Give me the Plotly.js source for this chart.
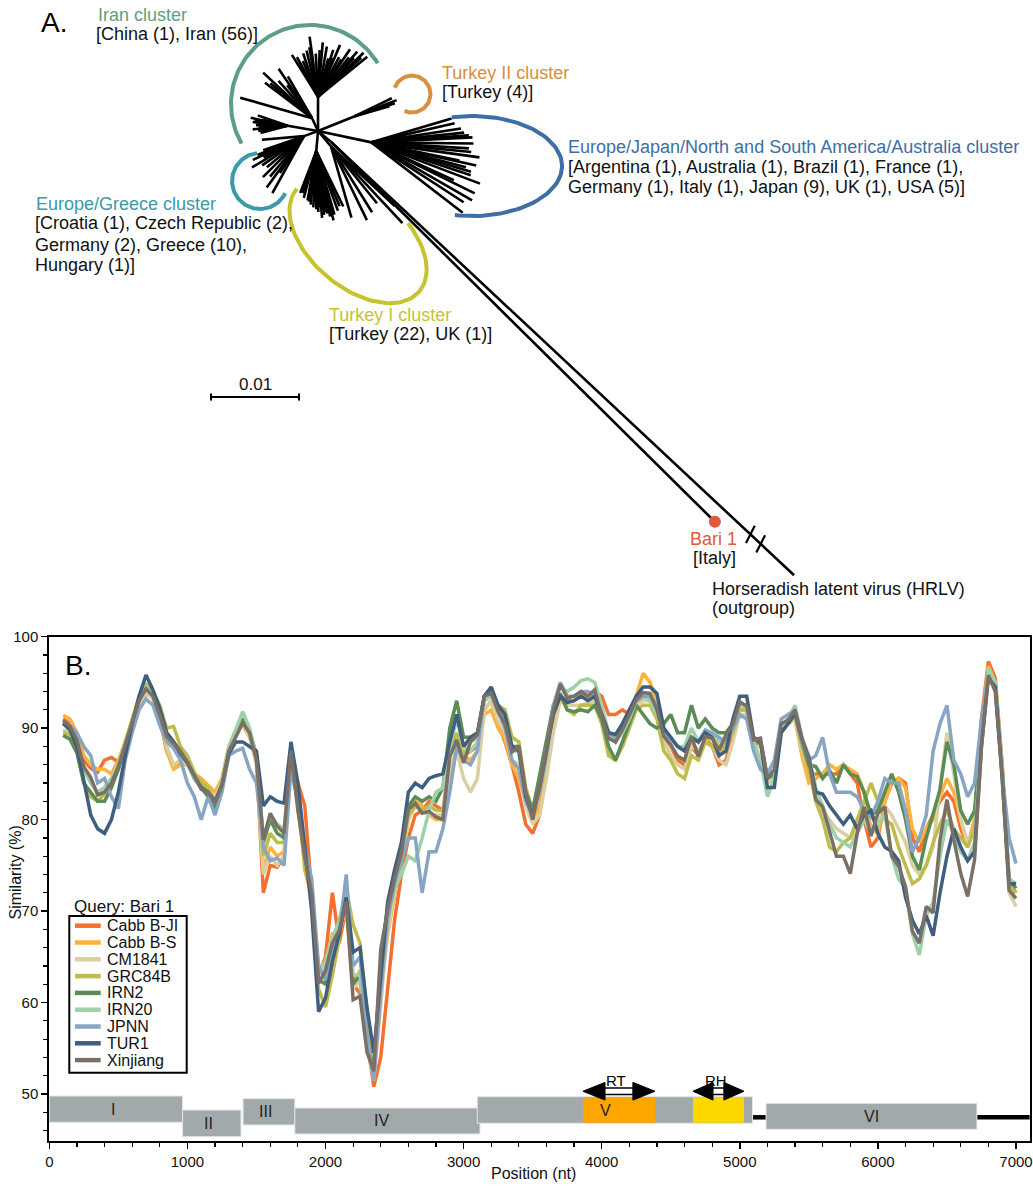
<!DOCTYPE html>
<html><head><meta charset="utf-8">
<script src="https://cdn.plot.ly/plotly-3.0.1.min.js"></script>
<style>html,body{margin:0;padding:0;background:#fff;}#chart{width:1033px;height:1186px;}</style>
</head><body><div id="chart"></div>
<script>
// ---------------- Panel B data: similarity (%) along genome position (nt) ----------------
const positions = [100,150,200,250,300,350,400,450,500,550,
600,650,700,750,800,850,900,950,1000,1050,
1100,1150,1200,1250,1300,1350,1400,1450,1500,1550,
1600,1650,1700,1750,1800,1850,1900,1950,2000,2050,
2100,2150,2200,2250,2300,2350,2400,2450,2500,2550,
2600,2650,2700,2750,2800,2850,2900,2950,3000,3050,
3100,3150,3200,3250,3300,3350,3400,3450,3500,3550,
3600,3650,3700,3750,3800,3850,3900,3950,4000,4050,
4100,4150,4200,4250,4300,4350,4400,4450,4500,4550,
4600,4650,4700,4750,4800,4850,4900,4950,5000,5050,
5100,5150,5200,5250,5300,5350,5400,5450,5500,5550,
5600,5650,5700,5750,5800,5850,5900,5950,6000,6050,
6100,6150,6200,6250,6300,6350,6400,6450,6500,6550,
6600,6650,6700,6750,6800,6850,6900,6950,7000];

const seriesNames = ['Cabb B-JI','Cabb B-S','CM1841','GRC84B','IRN2','IRN20','JPNN','TUR1','Xinjiang'];
const seriesColors = ['#F3702F','#FDB23C','#D9CFA1','#BEBC4C','#5B8C56','#9ED1A7','#88A6C4','#405F7E','#7B7067'];

const cabbBJI = [91,90.5,88.9,86.5,85.6,85.2,86.5,86.8,86.3,88,
90.3,93,94.3,93.3,91,87.5,86,86.2,86.5,85,
83.8,83.3,82.3,84,87.8,89.3,90.5,89.2,86.5,72,
75,74.8,76,86.5,84,81.5,72,63,65,72,
66.5,70.5,62,61,56,50.8,54,62,69,74,
78,80.5,81,82,81.5,81,84.5,88,87,87.5,
88,92,93,90.5,88.5,86,83,79.5,78.5,80.5,
85,90,93.5,93,93,93.5,93.5,94,93.5,91.5,
91.5,92,91.5,92.5,93.5,93.5,92,89,88,86.5,
86,88,87,89,88,86,86.5,89.5,92,92,
88,88.5,84.5,85,90,91,91,87.5,85,85,
85,85,85,86,85,84,80,77,78,82,
84,84.5,84,78,76.5,79,80.5,82,83,82,
79,77,80,91,97.3,95.5,86,73,72];

const cabbBS = [91.4,91.0,89.5,87,86,85.5,85.5,85,86.5,88.5,
90.8,93.2,94.5,93.8,91.5,87.5,85.5,86,86,85,
84.5,83.8,83,84.5,88,89.8,90.3,89,86.5,74.5,
77,76,76.5,86,83,74.5,71.5,63.5,64.5,67.5,
67.5,70.5,62,63.5,57,52.5,61,67.5,71.5,75.5,
80,82,81.5,80.5,80,80,84,88,87,86.5,
87.5,91.5,92,90,88.8,86,84.5,82,80,81.5,
85.5,90.5,93.5,92.8,93,93.5,93.5,93.8,92,89.5,
88.5,90,91,93.5,96,95,93,89.5,88,87,
86.5,88.5,87.5,88.5,89,88,88.5,90,92.5,92.5,
88.5,88.5,84.5,85,90,90.5,91,87,84,84.5,
85,86,85.5,86,85.5,85,83,79,78.5,82,
84,84.5,83.5,79,77.5,79,80,82.5,84.5,83,
80,77,80,90,96.8,95,85.5,73,72];

const cm1841 = [89.8,89.5,88,85.5,84,83,83.5,84.5,86,88,
90.3,92.5,93.8,93.2,91,88,86,86.5,86,84.5,
83.5,83,82.5,84,87.8,89.5,90.5,89,86,74,
76,75,76,86.5,82.5,75.5,72.5,63,64,67,
67.5,71,61.5,62.5,55.5,51.5,60,68,72,75.5,
80,81.5,81,80.5,80.5,80.5,85.5,87.5,84.5,83,
84.5,92,93,90.8,89.5,86.5,86,81.5,79.5,80.5,
84.5,89.5,93,92.5,92.5,92.5,92.8,93,91,87.5,
86.5,88.5,90.5,92.5,93,93,91.5,88.5,87,86,
85.5,88,87.5,88.5,88,86.5,86,88.5,91.5,91.5,
88,88,84,84.5,89.5,90.5,91,87.5,85.5,82.5,
81,80,79,78.5,78,79,80.5,79,79.5,81.5,
80.5,79,77.5,75,74,75,77,83.5,89.5,85,
80,77.5,79,89,96.5,94.5,85,72,70.5];

const grc84b = [89.5,89.3,87.5,84,82.5,82,82.8,84,85.5,88.5,
91,93.5,94.8,94,92.5,90,90.2,88,87,85.2,
84,83.5,82,83.5,87.5,89.5,90.8,89.5,86.5,76,
78.5,77.5,77.5,87,81.5,75,72,61.5,59.5,63,
67,72.5,68.5,66.5,59,53.5,62,70.5,74,76.5,
80.5,81.5,81,81.5,81,81,87,89.5,87,88.5,
89,93.5,94,92.5,92,89,88.5,83.5,81,84.5,
88,91.5,93.5,92,91.5,92.5,92.5,92.5,90.5,87,
86.5,88,90,92,92.5,92.5,91,87.5,86.5,85,
84.5,87,86.5,88.5,88,87,88.5,89.5,92,92,
88.5,88.5,84.5,85,90,90.5,91.5,88,85.5,82,
80,77,76.5,77.5,78,80,82,84,82,80,
79.5,77,75,73,73.5,75,77.5,79.5,81,79,
78,77,79,89.5,96.5,95,85.5,73,72];

const irn2 = [89.2,88.8,87.3,84,83,82,82,83.5,85.5,88,
90.5,93,94.5,93.8,91.8,89.5,88.5,87.5,86.2,84.5,
83.5,82.5,81.2,83.5,87.5,89.5,91,89.8,87,77.5,
80,78.5,78,87.5,82,76,72.5,62.5,62,65.5,
67.5,71.5,62,63,56,52.5,64.5,70.5,74,77,
81.5,82.5,82,82.5,82,83.5,90,93,89,89,
89.3,93.5,94,92,91,88,88,83,81,85,
88.5,92.5,93.8,92,91.8,92,91.8,92.5,91,88,
86.5,88.5,90.5,92.5,91.5,90.5,90,90.5,91.5,89.5,
89.5,92.5,90,91,90,89.5,89.5,90.5,92.5,92.5,
88.5,88.5,84.5,85,90,90.5,91.5,88.5,86,85.8,
84.5,85.4,84,86,85,84.7,83,80.5,81,83,
85,83,80,76,74.5,78,80.5,83.3,88.5,86,
81,79.5,81,89.5,96.2,94.8,85.5,73.5,72.5];

const irn20 = [90.5,90,88.5,85.5,84,83,83.5,84.5,86,88.2,
90.5,93,94.5,93.6,91.5,89,88,87.3,86.2,84.6,
83.5,83,82,84,88,89.8,91.8,90,86.8,78,
80.5,79.5,79,87,82,76.5,72.5,63.5,64.5,67,
69,72.5,63,63,56,51.5,63.5,69.5,72.5,74,
76,75.5,78,81,83,83.5,88,91,88,87.5,
88.5,93,93.5,92,90.5,87.5,87.5,82.5,80.5,83.5,
87.5,92,94.5,94,94.5,95.2,95.4,95,92.5,89.5,
88.5,89.5,91,93,93.5,93,91.5,89.5,89,88,
88,90,88.5,89.5,89.3,88.5,88.8,90,92.5,92.3,
88.5,86.5,82.5,84.5,90,91,92.5,89,87,83.5,
81.5,79.5,78,77.5,77,78.5,80,78.5,79.5,80.5,
76,73.5,72.5,67.5,65.2,69.5,71,76,80,78.5,
76.5,75.5,77.5,89,96.5,95,85.5,73.5,73];

const jpnn = [90.5,90.3,89.5,88,87,84,84.5,82.5,81.2,86.5,
89.5,92,93.2,92.5,90.3,88.5,87.8,86.5,84,82.5,
80,82.5,80.5,83,87,87.5,87.8,85.5,84,77,
75.5,75.8,75,85.5,82,77,73.5,64,62.5,65.5,
67.5,74,64,65,56.5,51.5,61,69,73,75.5,
78,78,72,76.5,76.5,79,83,88,86.5,86,
87.5,93.5,94.5,92,90,86.5,85.5,82,80.5,83,
87,92.5,95,93.5,93.5,94,94,93.5,91.5,89.5,
89,90,91.5,93,93.5,93.5,92.5,89.5,88.8,88,
87.5,89,88.5,89.8,89.5,89,88.5,90,91.5,91,
87.5,85.5,85,86.5,91,91.5,92,88.5,86.5,87,
89,85,83,83,83,82.5,81,80.3,82,84.5,
84,84,81,76.5,78,80.5,87.5,90.5,92.5,86.5,
85,82.5,84,91,95.3,94.5,85,78,75.2];

const tur1 = [90.5,89.8,88,84,80.5,79,78.5,80,83,87,
90.5,93.5,95.8,94.2,92.2,89.5,88.5,87.2,86.2,84.8,
83.5,83,82,83.8,87.2,88.5,88.5,88,87.5,81.5,
82.5,82,81.8,88.5,84,77,70,59,60.5,64.5,
67.5,71.5,65.5,66,59.5,54.5,63,71,74.5,77.5,
83,84,83.5,84.5,84.8,85,88.5,91.5,88,89,
89.5,93.5,94.5,92.5,91.5,88,87.5,82.5,80.5,83.5,
87.5,91.5,93.5,92.8,93,93.5,93,93.5,91.5,89.5,
89.3,90.5,92,93.5,94.5,94.5,93.8,90,89,88,
87.5,89,88.5,89.5,89,87,87.5,91,93.5,93.5,
89,88.5,83.5,83.5,89.5,90.5,91.8,88.8,86.8,83,
82.8,81.5,80.5,79.5,80.5,79,80.5,81,78.5,77,
76.5,75.5,71.5,69,67.5,69.5,67.3,72,76,79,
77,75.5,76.5,88,95.5,94.5,84.5,73,73];

const xinjiang = [90.8,90.2,88.7,85.8,84.6,82.7,83.0,84.0,85.8,88.2,
90.5,93.0,94.3,93.5,91.4,89.1,88.3,87.4,86.3,84.8,
83.3,83.0,81.8,83.7,87.5,89.0,90.6,89.5,86.5,77.8,
80.7,79.3,78.5,87.5,81.0,76.0,71.9,62.1,63.5,66.5,
67.9,71.0,60.3,60.7,54.6,52.5,65.8,70.1,73.5,76.4,
81.1,81.8,80.7,80.9,80.3,80.0,86.9,88.7,86.2,88.5,
89.3,93.5,93.8,91.8,90.4,87.4,88.0,82.9,80.0,83.6,
87.6,92.0,94.8,93.3,93.5,94.0,93.5,94.2,91.3,88.9,
88.5,89.8,91.4,93.1,93.9,93.8,92.0,89.1,88.2,86.9,
86.5,89.1,86.9,89.1,88.9,87.6,89.3,90.4,92.9,92.4,
88.7,88.9,84.5,85.5,90.5,90.9,92.0,88.9,86.5,82.2,
81.4,78.7,76.0,76.0,74.1,78.5,81.4,78.2,80.7,81.4,
76.0,74.9,72.7,67.8,66.5,70.5,69.8,77.8,82.2,77.8,
74.1,71.6,75.6,88.0,95.8,94.0,84.7,72.3,71.4];

const seriesValues = [cabbBJI, cabbBS, cm1841, grc84b, irn2, irn20, jpnn, tur1, xinjiang];

// Genome map (ORFs I-VI) and domains
const geneNames = ['I','II','III','IV','V','VI'];
const geneStart = [0, 965, 1403, 1778, 3099, 5190];
const geneEnd = [965, 1388, 1778, 3119, 5092, 6717];
const geneTop = [49.78, 48.25, 49.49, 48.47, 49.70, 48.98];
const geneBottom = [46.91, 45.33, 46.61, 45.63, 46.80, 46.14];
const geneLabelPos = [464, 1152, 1567, 2402, 4027, 5954];
const domainNames = ['RT','RH'];
const domainStart = [3864, 4661];
const domainEnd = [4386, 5030];
const domainColors = ['#FFA500','#FFD700'];
const genomeEnd = 7100;

// ---------------- Panel A data: unrooted tree ----------------
// branch lengths in units of 0.0001 substitutions/site, angles in degrees
const treeUnit = 0.0001;
const scaleBarValue = 0.01;
const cladeStemAngle = [-90, -115, -170, 160, 95, 50, 12, -22, 40];
const cladeStemLength = [39, 16, 35, 17, 23, 23, 62, 45, 19];
const tipAngles = [
  [-39,-44,-49,-56,-67,-72,-80,-88,-98,-109,-118,-122,-118,-52,-62,-75,-85,-100,-42,-47,-58,-70,-93,-104,-113],
  [-137,-124,-143,-127,-164,-132,-140,-120],
  [-168,-174,-179,174,170,-167,-161,165,-171,178],
  [155,161,149,158,130,126,119,123,175,140,145,135,152],
  [111,100,93,86,88,83,80,78,76,70,64,96,85,79,105,82,90,98,74,67,108],
  [74,64,51,47,43,58],
  [-16.5,-12.9,-8.8,-4.1,-2.8,0.6,3.5,7.9,12.4,14.7,18.3,20.8,26.3,29.9,37.6,24.6,11.6,-6,5.5,16.5,33],
  [-21,-18,-26,-16],
  [44.7,43.1]
];
const tipLengths = [
  [72,72,68,65,64,56,58,53,69,52,51,56,43,57,51,45,62,57,66,60,50,47,49,54,44],
  [76,68,67,47,85,57,62,55],
  [43,40,36,40,34,30,36,32,38,33],
  [64,49,69,57,60,72,74,50,48,55,58,66,52],
  [51,57,64,64,69,73,72,76,81,72,70,61,76,62,55,70,66,58,75,68,50],
  [84,93,83,119,99,88],
  [95,97,103,111,115,116,111,124,122,111,119,132,131,132,131,103,102,106,114,118,125],
  [51,48,47,41],
  [614,721]
];
// cluster brackets (ellipse arcs around clades)
const arcColors = ['#5E9E82','#D6903E','#3E6EA4','#3A9AA9','#C4C42E'];
const arcCx = [-9.1, 106.8, 175, -65.9, 45.5];
const arcCy = [-30.7, -42.0, 39.8, 56.8, 123.9];
const arcRx = [89.8, 21.0, 102.3, 31.8, 90.9];
const arcRy = [89.8, 21.0, 56.8, 31.8, 54.5];
const arcRot = [0, 0, 0, 0, 40];
const arcFrom = [150, -160, -103, 264, 180];
const arcTo = [329, 114, 101, 25.6, -70];

// ---------------- build ----------------
const W = 1033, H = 1186;
const FONT = 'Arial, "Liberation Sans", Helvetica, sans-serif';
const pxX = v => v / W, pxY = v => 1 - v / H;
const rad = d => d * Math.PI / 180;

const traces = [];

// tree
const tx = [], ty = [];
let bariEnd = null, hrlvNode = null;
for (let c = 0; c < cladeStemAngle.length; c++) {
  const a = rad(cladeStemAngle[c]);
  const nx = cladeStemLength[c] * Math.cos(a), ny = cladeStemLength[c] * Math.sin(a);
  tx.push(0, nx, null); ty.push(0, ny, null);
  tipAngles[c].forEach((ang, i) => {
    const b = rad(ang), L = tipLengths[c][i];
    const ex = nx + L * Math.cos(b), ey = ny + L * Math.sin(b);
    tx.push(nx, ex, null); ty.push(ny, ey, null);
    if (c === 8 && i === 0) bariEnd = [ex, ey];
    if (c === 8 && i === 1) hrlvNode = [nx, ny, ang];
  });
}
traces.push({x: tx, y: ty, xaxis: 'x2', yaxis: 'y2', mode: 'lines',
  line: {color: '#000', width: 2.6}, hoverinfo: 'skip', showlegend: false});

// break marks on the outgroup branch
const bx = [], by = [];
[653, 669].forEach(d => {
  const b = rad(hrlvNode[2]);
  const cx = hrlvNode[0] + d * Math.cos(b), cy = hrlvNode[1] + d * Math.sin(b);
  const s = rad(-63);
  bx.push(cx - 11 * Math.cos(s), cx + 11 * Math.cos(s), null);
  by.push(cy - 11 * Math.sin(s), cy + 11 * Math.sin(s), null);
});
traces.push({x: bx, y: by, xaxis: 'x2', yaxis: 'y2', mode: 'lines',
  line: {color: '#000', width: 2.2}, hoverinfo: 'skip', showlegend: false});

// arcs
for (let k = 0; k < arcCx.length; k++) {
  const ax = [], ay = [];
  const th = rad(arcRot[k]);
  for (let j = 0; j <= 80; j++) {
    const t = rad(arcFrom[k] + (arcTo[k] - arcFrom[k]) * j / 80);
    const lx = arcRx[k] * Math.cos(t), ly = arcRy[k] * Math.sin(t);
    ax.push(arcCx[k] + lx * Math.cos(th) - ly * Math.sin(th));
    ay.push(arcCy[k] + lx * Math.sin(th) + ly * Math.cos(th));
  }
  traces.push({x: ax, y: ay, xaxis: 'x2', yaxis: 'y2', mode: 'lines',
    line: {color: arcColors[k], width: 4}, hoverinfo: 'skip', showlegend: false});
}
// Bari 1 point
traces.push({x: [bariEnd[0]], y: [bariEnd[1]], xaxis: 'x2', yaxis: 'y2', mode: 'markers',
  marker: {color: '#E0593A', size: 12}, hoverinfo: 'skip', showlegend: false});

// scale bar
const sbX0 = -121.6, sbY = 302.3, sbLen = scaleBarValue / treeUnit;
traces.push({x: [sbX0, sbX0 + sbLen, null, sbX0, sbX0, null, sbX0 + sbLen, sbX0 + sbLen],
  y: [sbY, sbY, null, sbY - 4, sbY + 4, null, sbY - 4, sbY + 4],
  xaxis: 'x2', yaxis: 'y2', mode: 'lines', line: {color: '#000', width: 2},
  hoverinfo: 'skip', showlegend: false});

// similarity lines
seriesNames.forEach((n, i) => {
  traces.push({x: positions, y: seriesValues[i], name: n, mode: 'lines',
    line: {color: seriesColors[i], width: 3.5}, showlegend: false, xaxis: 'x', yaxis: 'y'});
});

// shapes
const shapes = [];
shapes.push({type: 'line', xref: 'x', yref: 'y', x0: geneEnd[4], x1: geneStart[5], y0: 47.45, y1: 47.45, line: {color: '#000', width: 4.5}});
shapes.push({type: 'line', xref: 'x', yref: 'y', x0: geneEnd[5], x1: genomeEnd, y0: 47.45, y1: 47.45, line: {color: '#000', width: 4.5}});
geneNames.forEach((g, i) => {
  shapes.push({type: 'rect', xref: 'x', yref: 'y', x0: geneStart[i], x1: geneEnd[i], y0: geneBottom[i], y1: geneTop[i],
    fillcolor: '#A1A9AA', line: {color: '#E3E6E6', width: 1}});
});
domainNames.forEach((d, i) => {
  shapes.push({type: 'rect', xref: 'x', yref: 'y', x0: domainStart[i], x1: domainEnd[i], y0: geneBottom[4] + 0.05, y1: geneTop[4] - 0.05,
    fillcolor: domainColors[i], line: {width: 0}});
});
const arrowY = 50.3, headH = 0.97, shaftH = 0.36;
const headLen = [160, 145];
domainNames.forEach((d, i) => {
  const a = domainStart[i], b = domainEnd[i], h = headLen[i];
  shapes.push({type: 'rect', xref: 'x', yref: 'y', x0: a + h - 5, x1: b - h + 5, y0: arrowY - shaftH, y1: arrowY + shaftH,
    fillcolor: '#fff', line: {color: '#000', width: 1.5}});
  shapes.push({type: 'path', xref: 'x', yref: 'y',
    path: `M${a},${arrowY} L${a + h},${arrowY + headH} L${a + h},${arrowY - headH} Z M${b},${arrowY} L${b - h},${arrowY + headH} L${b - h},${arrowY - headH} Z`,
    fillcolor: '#000', line: {color: '#000', width: 1}});
});
// manual legend
const legTop = 925.7, legStep = 16.8;
shapes.push({type: 'rect', xref: 'paper', yref: 'paper', x0: pxX(69.3), x1: pxX(186.7), y0: pxY(1072.7), y1: pxY(916),
  fillcolor: '#fff', line: {color: '#000', width: 2}});
seriesNames.forEach((n, i) => {
  const yy = pxY(legTop + legStep * i);
  shapes.push({type: 'line', xref: 'paper', yref: 'paper', x0: pxX(75), x1: pxX(100.7), y0: yy, y1: yy,
    line: {color: seriesColors[i], width: 4.5}});
});

// annotations
const ann = [];
function A(text, x, y, o = {}) {
  ann.push(Object.assign({text: text, x: pxX(x), y: pxY(y), xref: 'paper', yref: 'paper', showarrow: false,
    xanchor: 'left', yanchor: 'middle', font: {family: FONT, size: 18, color: '#111'}}, o));
}
A('A.', 39, 22, {font: {family: FONT, size: 28, color: '#000'}});
A('Iran cluster', 96, 15, {font: {family: FONT, size: 18, color: arcColors[0]}});
A('[China (1), Iran (56)]', 94, 34);
A('Turkey II cluster', 440, 73, {font: {family: FONT, size: 18, color: arcColors[1]}});
A('[Turkey (4)]', 440, 92);
A('Europe/Japan/North and South America/Australia cluster', 566, 147, {font: {family: FONT, size: 18, color: arcColors[2]}});
A('[Argentina (1), Australia (1), Brazil (1), France (1),', 566, 167);
A('Germany (1), Italy (1), Japan (9), UK (1), USA (5)]', 566, 187);
A('Europe/Greece cluster', 34, 204, {font: {family: FONT, size: 18, color: arcColors[3]}});
A('[Croatia (1), Czech Republic (2),', 33, 223.5);
A('Germany (2), Greece (10),', 33, 244.5);
A('Hungary (1)]', 33, 265);
A('Turkey I cluster', 327, 315, {font: {family: FONT, size: 18, color: arcColors[4]}});
A('[Turkey (22), UK (1)]', 327, 334);
A('0.01', 255, 385, {xanchor: 'center', font: {family: FONT, size: 17, color: '#111'}});
A('Bari 1', 713, 539, {xanchor: 'center', font: {family: FONT, size: 18, color: '#E0593A'}});
A('[Italy]', 714, 558, {xanchor: 'center'});
A('Horseradish latent virus (HRLV)', 710, 589);
A('(outgroup)', 710, 608);
A('B.', 63, 665, {font: {family: FONT, size: 28, color: '#000'}});
A('Query: Bari 1', 72, 906, {font: {family: FONT, size: 17, color: '#111'}});
seriesNames.forEach((n, i) => A(n, 105, legTop + legStep * i, {font: {family: FONT, size: 16, color: '#111'}}));
A('Similarity (%)', 14.5, 873, {xanchor: 'center', textangle: -90, font: {family: FONT, size: 16, color: '#111'}});
A('Position (nt)', 533, 1173, {xanchor: 'center', font: {family: FONT, size: 16, color: '#111'}});
geneNames.forEach((g, i) => {
  ann.push({text: g, x: geneLabelPos[i], y: (geneTop[i] + geneBottom[i]) / 2, xref: 'x', yref: 'y', showarrow: false,
    xanchor: 'center', yanchor: 'middle', font: {family: FONT, size: 16, color: '#222'}});
});
domainNames.forEach((d, i) => {
  ann.push({text: d, x: (domainStart[i] + domainEnd[i]) / 2 - 20, y: 51.5, xref: 'x', yref: 'y', showarrow: false,
    xanchor: 'center', yanchor: 'middle', font: {family: FONT, size: 15, color: '#000'}});
});

const layout = {
  width: W, height: H, margin: {l: 0, r: 0, t: 0, b: 0},
  paper_bgcolor: '#fff', plot_bgcolor: 'rgba(0,0,0,0)', showlegend: false,
  font: {family: FONT, color: '#000'},
  xaxis: {domain: [49.3 / W, 1029.8 / W], range: [0, genomeEnd], anchor: 'y', tick0: 0, dtick: 1000,
    ticks: 'outside', ticklen: 6, tickwidth: 1.5, tickcolor: '#000', showline: true, linewidth: 2, linecolor: '#000',
    mirror: true, showgrid: false, zeroline: false, tickfont: {family: FONT, size: 15, color: '#111'},
    minor: {ticks: 'outside', ticklen: 4, tickwidth: 1.2, tickcolor: '#000', dtick: 200, tick0: 0, showgrid: false}},
  yaxis: {domain: [1 - 1141 / H, 1 - 636.7 / H], range: [44.86, 100], anchor: 'x', tick0: 0, dtick: 10,
    ticks: 'outside', ticklen: 6, tickwidth: 1.5, tickcolor: '#000', showline: true, linewidth: 2, linecolor: '#000',
    mirror: true, showgrid: false, zeroline: false, tickfont: {family: FONT, size: 15, color: '#111'},
    minor: {ticks: 'outside', ticklen: 4, tickwidth: 1.2, tickcolor: '#000', dtick: 2, tick0: 0, showgrid: false}},
  xaxis2: {domain: [0, 1], range: [-361.4, 812.5], anchor: 'y2', visible: false, fixedrange: true},
  yaxis2: {domain: [1 - 628 / H, 1], range: [564.8, -148.9], anchor: 'x2', visible: false, fixedrange: true},
  shapes: shapes, annotations: ann
};
Plotly.newPlot('chart', traces, layout, {staticPlot: true, displayModeBar: false});
</script></body></html>
